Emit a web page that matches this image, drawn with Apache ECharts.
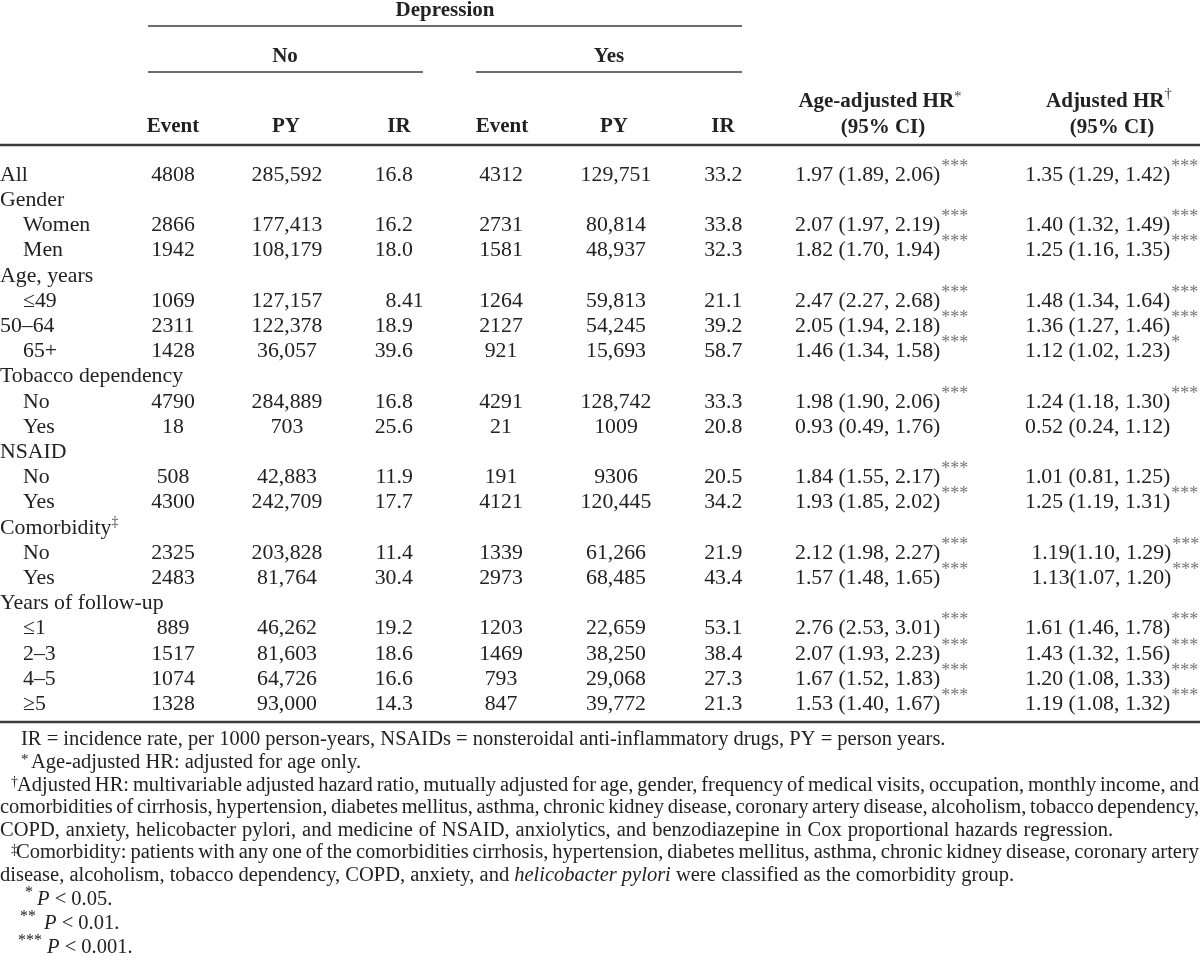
<!DOCTYPE html>
<html>
<head>
<meta charset="utf-8">
<title>Depression table</title>
<script src="https://cdn.jsdelivr.net/npm/echarts@6.0.0/dist/echarts.min.js"></script>
<style>
html,body{margin:0;padding:0;background:#fff;}
#chart{width:1200px;height:960px;}
</style>
</head>
<body>
<div id="chart"></div>
<script>
// ---------------- data ----------------
const rowLabels = ['All','Gender','Women','Men','Age, years','\u226449','50\u201364','65+','Tobacco dependency','No','Yes','NSAID','No','Yes','Comorbidity','No','Yes','Years of follow-up','\u22641','2\u20133','4\u20135','\u22655'];
const rowLabelSup = {14: '\u2021'};
const eventNo  = [4808,null,2866,1942,null,1069,2311,1428,null,4790,18,null,508,4300,null,2325,2483,null,889,1517,1074,1328];
const pyNo     = [285592,null,177413,108179,null,127157,122378,36057,null,284889,703,null,42883,242709,null,203828,81764,null,46262,81603,64726,93000];
const irNo     = [16.8,null,16.2,18.0,null,8.41,18.9,39.6,null,16.8,25.6,null,11.9,17.7,null,11.4,30.4,null,19.2,18.6,16.6,14.3];
const eventYes = [4312,null,2731,1581,null,1264,2127,921,null,4291,21,null,191,4121,null,1339,2973,null,1203,1469,793,847];
const pyYes    = [129751,null,80814,48937,null,59813,54245,15693,null,128742,1009,null,9306,120445,null,61266,68485,null,22659,38250,29068,39772];
const irYes    = [33.2,null,33.8,32.3,null,21.1,39.2,58.7,null,33.3,20.8,null,20.5,34.2,null,21.9,43.4,null,53.1,38.4,27.3,21.3];
const ageHR  = [1.97,null,2.07,1.82,null,2.47,2.05,1.46,null,1.98,0.93,null,1.84,1.93,null,2.12,1.57,null,2.76,2.07,1.67,1.53];
const ageLo  = [1.89,null,1.97,1.70,null,2.27,1.94,1.34,null,1.90,0.49,null,1.55,1.85,null,1.98,1.48,null,2.53,1.93,1.52,1.40];
const ageHi  = [2.06,null,2.19,1.94,null,2.68,2.18,1.58,null,2.06,1.76,null,2.17,2.02,null,2.27,1.65,null,3.01,2.23,1.83,1.67];
const ageSig = ['***',null,'***','***',null,'***','***','***',null,'***','',null,'***','***',null,'***','***',null,'***','***','***','***'];
const adjHR  = [1.35,null,1.40,1.25,null,1.48,1.36,1.12,null,1.24,0.52,null,1.01,1.25,null,1.19,1.13,null,1.61,1.43,1.20,1.19];
const adjLo  = [1.29,null,1.32,1.16,null,1.34,1.27,1.02,null,1.18,0.24,null,0.81,1.19,null,1.10,1.07,null,1.46,1.32,1.08,1.08];
const adjHi  = [1.42,null,1.49,1.35,null,1.64,1.46,1.23,null,1.30,1.12,null,1.25,1.31,null,1.29,1.20,null,1.78,1.56,1.33,1.32];
const adjSig = ['***',null,'***','***',null,'***','***','*',null,'***','',null,'','***',null,'***','***',null,'***','***','***','***'];

const spanTitle = 'Depression';
const groupLabels = ['No', 'Yes'];
const colLabels = ['Event', 'PY', 'IR', 'Event', 'PY', 'IR'];
const hrLabels = [['Age-adjusted HR', '*', '(95% CI)'], ['Adjusted HR', '\u2020', '(95% CI)']];

const noteAbbrev = 'IR = incidence rate, per 1000 person-years, NSAIDs = nonsteroidal anti-inflammatory drugs, PY = person years.';
const noteAge = ['*', 'Age-adjusted HR: adjusted for age only.'];
const noteAdj = ['\u2020', 'Adjusted HR: multivariable adjusted hazard ratio, mutually adjusted for age, gender, frequency of medical visits, occupation, monthly income, and',
  'comorbidities of cirrhosis, hypertension, diabetes mellitus, asthma, chronic kidney disease, coronary artery disease, alcoholism, tobacco dependency,',
  'COPD, anxiety, helicobacter pylori, and medicine of NSAID, anxiolytics, and benzodiazepine in Cox proportional hazards regression.'];
const noteCom = ['\u2021', 'Comorbidity: patients with any one of the comorbidities cirrhosis, hypertension, diabetes mellitus, asthma, chronic kidney disease, coronary artery',
  'disease, alcoholism, tobacco dependency, COPD, anxiety, and ', 'helicobacter pylori', ' were classified as the comorbidity group.'];
const noteP = [['*', '0.05'], ['**', '0.01'], ['***', '0.001']];

// ---------------- layout & style ----------------
const FONT = '"Liberation Serif", "Times New Roman", Times, serif';
const INK = '#222';
const STARC = '#777';
const FS = 21.8, FH = 21, FN = 20.5;
const ROW_TOP = 162.4, ROW_H = 25.2;
const X = { labelIndent: 23, eventNo: 173, pyNo: 287, irNoDec: 396.5, eventYes: 501, pyYes: 616, irYesDec: 726, ageHR: 795, adjHR: 1025 };
const indentRows = [2,3,5,7,9,10,12,13,15,16,18,19,20,21];
const tightRows = [15,16];
const HDR = { spanX: 445, spanY: 11, groupX: [285, 609], groupY: 57, colX: [173, 286, 399, 502, 614, 723], colY: 127,
  hrX1: [880, 1109], hrY1: 102, hrX2: [883, 1112], hrY2: 128 };
const RULES = [
  { x1: 148, x2: 742, y: 26, w: 1.5 },
  { x1: 148, x2: 423, y: 72, w: 1.5 },
  { x1: 476, x2: 742, y: 72, w: 1.5 },
  { x1: 0, x2: 1200, y: 145, w: 2.6 },
  { x1: 0, x2: 1200, y: 722, w: 2.6 }
];
const NOTE_Y0 = 740, NOTE_DY = 22.6;
const P_X = [[25, 37], [20, 44], [18, 47]];

// ---------------- helpers ----------------
const mctx = document.createElement('canvas').getContext('2d');
function tw(t, size, style, weight) {
  mctx.font = (style || 'normal') + ' ' + (weight || 'normal') + ' ' + size + 'px ' + FONT;
  return mctx.measureText(t).width;
}
function fmtCount(n) { return n >= 10000 ? n.toLocaleString('en-US') : String(n); }
function fmtIR(v) { return v < 10 ? v.toFixed(2) : v.toFixed(1); }
function fmtHR(h, lo, hi, tight) { return h.toFixed(2) + (tight ? '' : ' ') + '(' + lo.toFixed(2) + ', ' + hi.toFixed(2) + ')'; }

const RICH = {
  m:  { fontSize: FS, fontFamily: FONT, fill: INK, lineHeight: 28 },
  s:  { fontSize: 18, fontFamily: FONT, fill: STARC, verticalAlign: 'top', height: 12, padding: [0, 0, 0, 1] },
  lm: { fontSize: FS, fontFamily: FONT, fill: INK, lineHeight: 24 },
  ld: { fontSize: 14, fontFamily: FONT, fill: '#444', verticalAlign: 'top', height: 14 }
};

// ---------------- cells ----------------
const cells = [];
function addCell(row, x, text, align) { cells.push({ row: row, x: x, text: text, align: align }); }

rowLabels.forEach(function (lab, i) {
  const x = indentRows.indexOf(i) >= 0 ? X.labelIndent : 0;
  const t = rowLabelSup[i] ? '{lm|' + lab + '}{ld|' + rowLabelSup[i] + '}' : '{lm|' + lab + '}';
  addCell(i, x, t, 'left');
});
[[eventNo, X.eventNo], [pyNo, X.pyNo], [eventYes, X.eventYes], [pyYes, X.pyYes]].forEach(function (c) {
  c[0].forEach(function (v, i) { if (v != null) addCell(i, c[1], '{m|' + fmtCount(v) + '}', 'center'); });
});
[[irNo, X.irNoDec], [irYes, X.irYesDec]].forEach(function (c) {
  c[0].forEach(function (v, i) {
    if (v == null) return;
    const s = fmtIR(v);
    addCell(i, c[1] - tw(s.split('.')[0], FS), '{m|' + s + '}', 'left');
  });
});
ageHR.forEach(function (v, i) {
  if (v == null) return;
  addCell(i, X.ageHR, '{m|' + fmtHR(v, ageLo[i], ageHi[i], false) + '}' + (ageSig[i] ? '{s|' + ageSig[i] + '}' : ''), 'left');
});
adjHR.forEach(function (v, i) {
  if (v == null) return;
  const tight = tightRows.indexOf(i) >= 0;
  addCell(i, X.adjHR + (tight ? tw(' ', FS) + 1 : 0), '{m|' + fmtHR(v, adjLo[i], adjHi[i], tight) + '}' + (adjSig[i] ? '{s|' + adjSig[i] + '}' : ''), 'left');
});

// ---------------- graphic: header, rules, notes ----------------
const G = [];
function txt(x, y, text, opt) {
  opt = opt || {};
  G.push({ type: 'text', x: x, y: y, silent: true, style: Object.assign({
    text: text, fontFamily: FONT, fontSize: opt.size || FH, fontWeight: opt.weight || 'normal', fontStyle: opt.style || 'normal',
    fill: opt.fill || INK, align: opt.align || 'left', verticalAlign: 'middle' }, opt.extra || {}) });
}
// header
txt(HDR.spanX, HDR.spanY, spanTitle, { weight: 'bold', align: 'center' });
groupLabels.forEach(function (g, k) { txt(HDR.groupX[k], HDR.groupY, g, { weight: 'bold', align: 'center' }); });
colLabels.forEach(function (c, k) { txt(HDR.colX[k], HDR.colY, c, { weight: 'bold', align: 'center' }); });
const HRICH = {
  h:  { fontSize: FH, fontFamily: FONT, fontWeight: 'bold', fill: INK, lineHeight: 24 },
  hs: { fontSize: 15, fontFamily: FONT, fill: '#444', verticalAlign: 'top', height: 15 },
  hd: { fontSize: 15, fontFamily: FONT, fill: '#444', verticalAlign: 'top', height: 9 }
};
hrLabels.forEach(function (h, k) {
  const supStyle = h[1] === '*' ? 'hs' : 'hd';
  txt(HDR.hrX1[k], HDR.hrY1, '{h|' + h[0] + '}{' + supStyle + '|' + h[1] + '}', { align: 'center', extra: { rich: HRICH } });
  txt(HDR.hrX2[k], HDR.hrY2, h[2], { weight: 'bold', align: 'center' });
});
// rules
RULES.forEach(function (r) {
  G.push({ type: 'line', silent: true, shape: { x1: r.x1, y1: r.y, x2: r.x2, y2: r.y }, style: { stroke: '#3c3c3c', lineWidth: r.w } });
});
// notes
function justify(text, x0, x1, y) {
  const words = text.split(' ');
  const widths = words.map(function (w) { return tw(w, FN); });
  const total = widths.reduce(function (a, b) { return a + b; }, 0);
  const gap = (x1 - x0 - total) / (words.length - 1);
  let x = x0;
  words.forEach(function (w, k) { txt(x, y, w, { size: FN }); x += widths[k] + gap; });
}
const ny = function (k) { return NOTE_Y0 + k * NOTE_DY; };
txt(21, ny(0), noteAbbrev, { size: FN });
txt(21, ny(1) - 3, noteAge[0], { size: 15 });
txt(31, ny(1), noteAge[1], { size: FN });
txt(11, ny(2) - 3, noteAdj[0], { size: 14 });
justify(noteAdj[1], 17, 1199, ny(2));
justify(noteAdj[2], 0, 1199, ny(3));
justify(noteAdj[3], 0, 1113, ny(4));
txt(11, ny(5) - 3, noteCom[0], { size: 14 });
justify(noteCom[1], 16, 1199, ny(5));
txt(0, ny(6), '{n|' + noteCom[2] + '}{i|' + noteCom[3] + '}{n|' + noteCom[4] + '}', { size: FN, extra: { rich: {
  n: { fontSize: FN, fontFamily: FONT, fill: INK },
  i: { fontSize: FN, fontFamily: FONT, fontStyle: 'italic', fill: INK } } } });
noteP.forEach(function (p, k) {
  const y = ny(7 + k) + 1.5 * (k + 1);
  txt(P_X[k][0], y - 7, p[0], { size: 16 });
  txt(P_X[k][1], y, '{i|P}{n| < ' + p[1] + '.}', { size: FN, extra: { rich: {
    n: { fontSize: FN, fontFamily: FONT, fill: INK },
    i: { fontSize: FN, fontFamily: FONT, fontStyle: 'italic', fill: INK } } } });
});

// ---------------- chart ----------------
const chart = echarts.init(document.getElementById('chart'), null, { renderer: 'canvas' });
chart.setOption({
  animation: false,
  backgroundColor: '#fff',
  grid: { left: 0, right: 0, top: ROW_TOP, height: ROW_H * rowLabels.length, containLabel: false },
  xAxis: { type: 'value', min: 0, max: 1200, show: false },
  yAxis: { type: 'category', data: rowLabels.map(function (l, i) { return i + ' ' + l; }), inverse: true, show: false },
  series: [{
    type: 'custom',
    coordinateSystem: 'cartesian2d',
    silent: true,
    clip: false,
    data: cells.map(function (c) { return [c.x, c.row]; }),
    renderItem: function (params, api) {
      const c = cells[params.dataIndex];
      const p = api.coord([api.value(0), api.value(1)]);
      return { type: 'text', x: p[0], y: p[1], style: {
        text: c.text, rich: RICH, align: c.align, verticalAlign: 'middle', fontFamily: FONT, fontSize: FS, fill: INK } };
    }
  }],
  graphic: { elements: G }
});
</script>
</body>
</html>
